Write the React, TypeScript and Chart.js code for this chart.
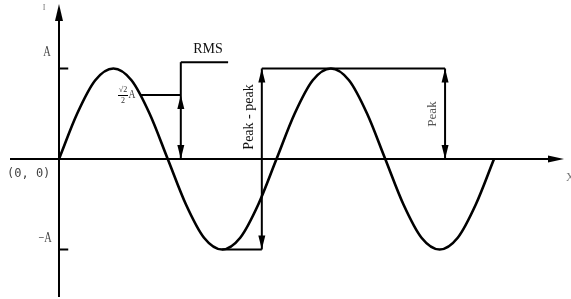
import React, { useEffect, useRef } from "react";
import { Chart, registerables } from "chart.js";

Chart.register(...registerables);

// time in quarter-period units (one period = 4)
const waveX = [
  0, 0.333, 0.667, 1, 1.333, 1.667, 2, 2.333, 2.667, 3, 3.333, 3.667, 4,
  4.333, 4.667, 5, 5.333, 5.667, 6, 6.333, 6.667, 7, 7.333, 7.667, 8,
];
const waveY = [
  0, 0.5, 0.87, 1, 0.87, 0.5, 0, -0.5, -0.87, -1, -0.87, -0.5, 0,
  0.5, 0.87, 1, 0.87, 0.5, 0, -0.5, -0.87, -1, -0.87, -0.5, 0,
];

const peakValue = 1;
const rmsValue = 0.707;
const rmsStartX = 1.5;
const rmsBracketX = 2.24;
const rmsBracketTop = 1.07;
const rmsBracketEndX = 3.11;
const peakPeakX = 3.73;
const troughX = 3;
const peakX = 7.1;

const axisLabels = { amp: "A", negAmp: "−A", origin: "(0, 0)", yName: "I", xName: "X" };

export default function App() {
  const ref = useRef<HTMLCanvasElement>(null);
  useEffect(() => {
    const canvas = ref.current;
    if (!canvas) return;

    const arrowHead = (ctx: CanvasRenderingContext2D, x: number, y: number, dir: "up" | "down" | "right", len = 14, half = 3.5) => {
      ctx.beginPath();
      if (dir === "up") {
        ctx.moveTo(x, y);
        ctx.lineTo(x - half, y + len);
        ctx.lineTo(x + half, y + len);
      } else if (dir === "down") {
        ctx.moveTo(x, y);
        ctx.lineTo(x - half, y - len);
        ctx.lineTo(x + half, y - len);
      } else {
        ctx.moveTo(x, y);
        ctx.lineTo(x - len, y - half);
        ctx.lineTo(x - len, y + half);
      }
      ctx.closePath();
      ctx.fill();
    };

    const axesPlugin = {
      id: "axesPlugin",
      beforeDatasetsDraw(chart: any) {
        const ctx = chart.ctx as CanvasRenderingContext2D;
        const xs = chart.scales.x;
        const ys = chart.scales.y;
        const x0 = xs.getPixelForValue(0);
        const y0 = ys.getPixelForValue(0);
        ctx.save();
        ctx.strokeStyle = "#000";
        ctx.fillStyle = "#000";
        ctx.lineWidth = 2;
        // x axis
        ctx.beginPath();
        ctx.moveTo(10, y0);
        ctx.lineTo(552, y0);
        ctx.stroke();
        arrowHead(ctx, 564, y0, "right", 16, 3.5);
        // y axis
        ctx.beginPath();
        ctx.moveTo(x0, 297);
        ctx.lineTo(x0, 18);
        ctx.stroke();
        arrowHead(ctx, x0, 4, "up", 17, 4);
        // ticks
        const tickEnd = xs.getPixelForValue(0.17);
        [peakValue, -peakValue].forEach((v) => {
          const y = ys.getPixelForValue(v);
          ctx.beginPath();
          ctx.moveTo(x0, y);
          ctx.lineTo(tickEnd, y);
          ctx.stroke();
        });
        // labels
        ctx.fillStyle = "#444";
        ctx.textAlign = "center";
        ctx.textBaseline = "middle";
        ctx.font = "13px 'Liberation Serif'";
        ctx.save();
        ctx.translate(47, 52);
        ctx.scale(0.8, 1.1);
        ctx.fillText(axisLabels.amp, 0, 0);
        ctx.restore();
        ctx.save();
        ctx.translate(45, 238);
        ctx.scale(0.8, 1.1);
        ctx.fillText(axisLabels.negAmp, 0, 0);
        ctx.restore();
        ctx.font = "12px 'DejaVu Sans Mono'";
        ctx.textAlign = "left";
        ctx.fillText(axisLabels.origin, 7, 174);
        ctx.font = "8px 'Liberation Serif'";
        ctx.fillStyle = "#777";
        ctx.textAlign = "center";
        ctx.fillText(axisLabels.yName, 44, 8);
        ctx.font = "12px 'Liberation Serif'";
        ctx.textAlign = "left";
        ctx.fillText(axisLabels.xName, 566, 178);
        ctx.restore();
      },
      afterDatasetsDraw(chart: any) {
        const ctx = chart.ctx as CanvasRenderingContext2D;
        const xs = chart.scales.x;
        const ys = chart.scales.y;
        const px = (v: number) => xs.getPixelForValue(v);
        const py = (v: number) => ys.getPixelForValue(v);
        ctx.save();
        ctx.strokeStyle = "#000";
        ctx.fillStyle = "#000";
        ctx.lineWidth = 2;
        const line = (x1: number, y1: number, x2: number, y2: number) => {
          ctx.beginPath();
          ctx.moveTo(x1, y1);
          ctx.lineTo(x2, y2);
          ctx.stroke();
        };
        // RMS
        line(px(rmsStartX), py(rmsValue), px(rmsBracketX), py(rmsValue));
        line(px(rmsBracketX), py(0), px(rmsBracketX), py(rmsBracketTop));
        line(px(rmsBracketX), py(rmsBracketTop), px(rmsBracketEndX), py(rmsBracketTop));
        arrowHead(ctx, px(rmsBracketX), py(rmsValue), "up", 14, 3.5);
        arrowHead(ctx, px(rmsBracketX), py(0), "down", 14, 3.5);
        // peak-peak
        line(px(peakPeakX), py(peakValue), px(peakPeakX), py(-peakValue));
        line(px(peakPeakX), py(peakValue), px(peakX), py(peakValue));
        line(px(troughX), py(-peakValue), px(peakPeakX), py(-peakValue));
        arrowHead(ctx, px(peakPeakX), py(peakValue), "up", 14, 3.5);
        arrowHead(ctx, px(peakPeakX), py(-peakValue), "down", 14, 3.5);
        // peak
        line(px(peakX), py(0), px(peakX), py(peakValue));
        arrowHead(ctx, px(peakX), py(peakValue), "up", 14, 3.5);
        arrowHead(ctx, px(peakX), py(0), "down", 14, 3.5);

        // texts
        ctx.textAlign = "center";
        ctx.textBaseline = "middle";
        ctx.fillStyle = "#111";
        ctx.font = "14px 'Liberation Serif'";
        ctx.fillText("RMS", 208, 49);
        ctx.save();
        ctx.translate(249, 117);
        ctx.rotate(-Math.PI / 2);
        ctx.fillText("Peak - peak", 0, 0);
        ctx.restore();
        ctx.save();
        ctx.fillStyle = "#555";
        ctx.font = "13px 'Liberation Serif'";
        ctx.translate(433, 114);
        ctx.rotate(-Math.PI / 2);
        ctx.fillText("Peak", 0, 0);
        ctx.restore();

        // sqrt(2)/2 A label
        ctx.fillStyle = "#333";
        ctx.font = "8px 'Liberation Serif'";
        ctx.fillText("√2", 123, 90);
        ctx.fillText("2", 123, 101);
        ctx.lineWidth = 1;
        line(118, 95.5, 128, 95.5);
        ctx.save();
        ctx.font = "12px 'Liberation Serif'";
        ctx.translate(132, 95);
        ctx.scale(0.8, 1.1);
        ctx.fillText(axisLabels.amp, 0, 0);
        ctx.restore();
        ctx.restore();
      },
    };

    const chart = new Chart(canvas, {
      type: "line",
      data: {
        datasets: [
          {
            data: waveX.map((x, i) => ({ x, y: waveY[i] })),
            borderColor: "#000",
            borderWidth: 2.6,
            pointRadius: 0,
            cubicInterpolationMode: "monotone",
            fill: false,
          },
        ],
      },
      options: {
        animation: false,
        responsive: true,
        maintainAspectRatio: false,
        layout: { padding: 0 },
        plugins: { legend: { display: false }, tooltip: { enabled: false } },
        events: [],
        scales: {
          x: { type: "linear", min: -1.085, max: 9.416, display: false },
          y: { type: "linear", min: -1.547, max: 1.757, display: false },
        },
      },
      plugins: [axesPlugin],
    } as any);
    return () => chart.destroy();
  }, []);

  return (
    <div style={{ position: "fixed", left: 0, top: 0, width: 571, height: 299, background: "#fff" }}>
      <canvas ref={ref} />
    </div>
  );
}
